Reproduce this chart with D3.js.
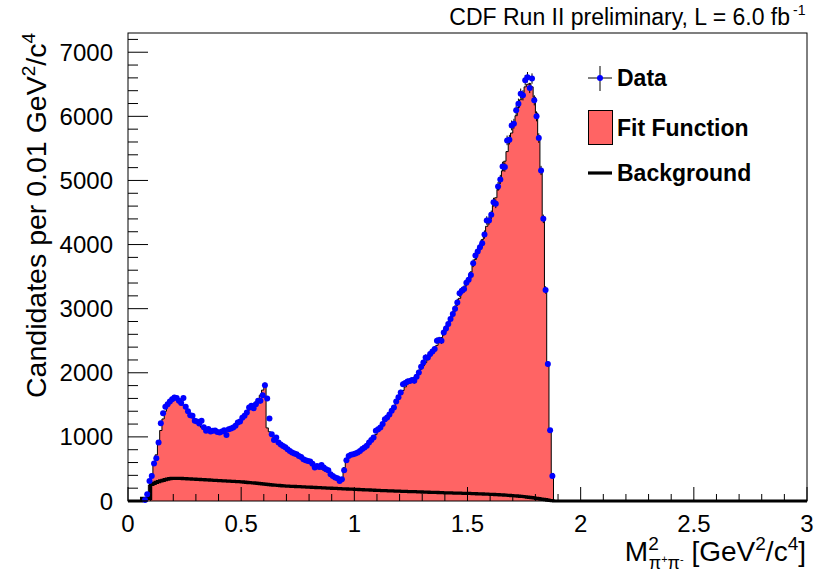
<!DOCTYPE html>
<html><head><meta charset="utf-8">
<script src="https://cdn.jsdelivr.net/npm/d3@7"></script>
<style>body{margin:0;background:#fff}svg{display:block}text{font-family:"Liberation Sans",Arial,Helvetica,sans-serif}</style>
</head><body><svg id="c" width="814" height="574"></svg>
<script>
// ---- data (bins of 0.01 GeV^2/c^4, first bin starts at 0.05) ----
const binWidth = 0.01;
const firstBinLow = 0.05;
const dataCounts = [null,null,15,105,312,390,583,667,911,1214,1370,1469,1510,1552,1589,1614,1605,1562,1527,1605,1469,1400,1339,1328,1250,1240,1208,1250,1150,1094,1125,1083,1094,1100,1078,1068,1085,1104,1031,1120,1130,1146,1172,1224,1240,1300,1328,1380,1458,1484,1448,1510,1562,1562,1651,1807,1599,1286,1042,953,989,911,880,859,840,807,781,755,740,729,703,687,651,635,625,615,580,521,547,531,562,521,495,479,417,390,365,354,312,339,479,635,703,720,729,740,755,781,810,833,860,911,950,989,1094,1120,1146,1200,1276,1302,1350,1406,1458,1552,1620,1693,1823,1840,1864,1870,1886,1875,1940,2005,2094,2160,2239,2239,2292,2330,2370,2500,2510,2500,2630,2690,2760,2840,2917,3000,3098,3242,3281,3307,3404,3450,3526,3708,3828,3890,3958,4021,4156,4375,4375,4464,4661,4636,4906,5016,5219,5208,5625,5636,5859,5885,6094,6198,6354,6328,6563,6610,6443,6589,6250,6000,5661,5156,4401,3292,2136,1104,391];
const fitValues = [0,30,40,60,250,420,560,720,900,1100,1280,1400,1480,1540,1575,1590,1585,1565,1535,1495,1450,1400,1350,1300,1255,1215,1180,1150,1125,1105,1090,1080,1075,1072,1072,1075,1080,1088,1098,1110,1125,1145,1170,1200,1235,1275,1320,1370,1420,1465,1505,1545,1590,1650,1730,1830,1140,1080,1030,990,955,925,895,865,835,808,782,758,735,712,690,670,650,630,610,590,570,550,532,515,498,480,462,444,425,405,385,365,335,360,520,640,690,715,730,745,762,782,805,832,862,895,935,990,1035,1085,1135,1185,1240,1295,1350,1410,1470,1535,1600,1665,1725,1780,1825,1862,1895,1930,1970,2010,2060,2110,2160,2210,2262,2315,2370,2428,2488,2550,2615,2683,2755,2830,2908,2990,3075,3162,3250,3325,3400,3470,3570,3670,3770,3870,3970,4075,4180,4285,4390,4500,4610,4730,4860,5000,5150,5300,5450,5600,5740,5880,6010,6140,6260,6370,6460,6500,6510,6460,6300,6050,5700,5150,4420,3300,2140,1090,430];
const bkgValues = [0,40,40,40,40,260,275,290,302,313,323,333,342,348,352,354,355,354,352,350,348,346,344,342,340,338,336,334,332,330,328,326,324,322,320,318,316,314,312,310,308,306,304,302,300,297,294,291,288,285,282,278,274,270,266,262,258,255,252,249,246,243,240,237,234,232,230,228,227,225,223,222,220,218,217,215,213,212,210,208,207,205,203,201,200,198,196,195,193,191,190,188,186,185,183,182,180,178,177,175,174,172,170,169,167,166,164,163,162,160,159,157,156,155,153,152,151,150,148,147,146,145,144,142,141,140,139,138,136,135,134,133,132,130,129,128,127,126,125,124,123,122,121,120,119,118,117,115,114,112,111,110,108,107,105,104,102,100,98,96,94,92,90,87,85,82,79,76,73,70,66,62,57,52,47,42,36,30,25,20,14,8,4];
const xTicksMajor = [0,0.5,1,1.5,2,2.5,3];
const xTickLabels = ["0","0.5","1","1.5","2","2.5","3"];
const yTicksMajor = [0,1000,2000,3000,4000,5000,6000,7000];
const yTickLabels = ["0","1000","2000","3000","4000","5000","6000","7000"];
const xDomain = [0,3], yDomain = [0,7300];
const legendItems = ["Data","Fit Function","Background"];

const svg = d3.select("#c");
const x = d3.scaleLinear().domain(xDomain).range([128,807]);
const y = d3.scaleLinear().domain(yDomain).range([501,33]);
const RED = "#ff6464";

function toSteps(vals){
  const pts = vals.map((v,i)=>({lo: firstBinLow + i*binWidth, v: v==null?0:v}));
  const out = [{lo:xDomain[0], v:0}].concat(pts);
  out.push({lo: firstBinLow + vals.length*binWidth, v:0});
  out.push({lo: xDomain[1], v:0});
  return out;
}
const fitSteps = toSteps(fitValues);
const bkgSteps = toSteps(bkgValues);

svg.append("path").datum(fitSteps)
  .attr("d", d3.area().curve(d3.curveStepAfter).x(d=>x(d.lo)).y0(y(0)).y1(d=>y(d.v)))
  .attr("fill", RED);
svg.append("path").datum(fitSteps)
  .attr("d", d3.line().curve(d3.curveStepAfter).x(d=>x(d.lo)).y(d=>y(d.v)))
  .attr("fill","none").attr("stroke","#000").attr("stroke-width",1);
svg.append("path").datum(bkgSteps)
  .attr("d", d3.line().curve(d3.curveStepAfter).x(d=>x(d.lo)).y(d=>y(d.v)))
  .attr("fill","none").attr("stroke","#000").attr("stroke-width",3.2);

const pts = dataCounts.map((v,i)=>({c: firstBinLow + (i+0.5)*binWidth, lo:firstBinLow+i*binWidth, v})).filter(d=>d.v!=null);
const g = svg.append("g");
g.selectAll("line.ev").data(pts).join("line")
  .attr("x1",d=>x(d.c)).attr("x2",d=>x(d.c))
  .attr("y1",d=>y(Math.max(0,d.v-Math.sqrt(d.v)))).attr("y2",d=>y(d.v+Math.sqrt(d.v)))
  .attr("stroke","#000").attr("stroke-width",1);
g.selectAll("line.eh").data(pts).join("line")
  .attr("x1",d=>x(d.lo)).attr("x2",d=>x(d.lo+binWidth))
  .attr("y1",d=>y(d.v)).attr("y2",d=>y(d.v))
  .attr("stroke","#000").attr("stroke-width",1);
g.selectAll("circle").data(pts).join("circle")
  .attr("cx",d=>x(d.c)).attr("cy",d=>y(d.v)).attr("r",3).attr("fill","#0000ff");

// frame
svg.append("rect").attr("x",128).attr("y",33).attr("width",679).attr("height",468)
  .attr("fill","none").attr("stroke","#000").attr("stroke-width",1);

// x ticks
const xMinor = d3.range(0, 3.0001, 0.1);
svg.append("g").selectAll("line").data(xMinor).join("line")
  .attr("x1",d=>x(d)).attr("x2",d=>x(d)).attr("y1",501)
  .attr("y2",d=> (Math.abs(d*2-Math.round(d*2))<1e-6) ? 501-14 : 501-7)
  .attr("stroke","#000");
svg.append("g").selectAll("text").data(xTicksMajor).join("text")
  .attr("x",d=>x(d)).attr("y",532).attr("text-anchor","middle")
  .attr("font-size",24).text((d,i)=>xTickLabels[i]);
// y ticks
const yMinor = d3.range(0, 7201, 200);
svg.append("g").selectAll("line").data(yMinor).join("line")
  .attr("y1",d=>y(d)).attr("y2",d=>y(d)).attr("x1",128)
  .attr("x2",d=> d%1000===0 ? 128+20 : 128+10)
  .attr("stroke","#000");
svg.append("g").selectAll("text").data(yTicksMajor).join("text")
  .attr("x",113).attr("y",d=>y(d)+8.5).attr("text-anchor","end")
  .attr("font-size",24).text((d,i)=>yTickLabels[i]);

// axis titles
const yt = svg.append("text").attr("transform","translate(46,33) rotate(-90)")
  .attr("text-anchor","end").attr("font-size",28.5);
yt.append("tspan").text("Candidates per 0.01 GeV");
yt.append("tspan").attr("dy",-11).attr("font-size",19).text("2");
yt.append("tspan").attr("dy",11).text("/c");
yt.append("tspan").attr("dy",-11).attr("font-size",19).text("4");

const xt = svg.append("text").attr("x",806).attr("y",561).attr("text-anchor","end").attr("font-size",28);
xt.append("tspan").text("M");
xt.append("tspan").attr("dy",-11).attr("font-size",19).text("2");
xt.append("tspan").attr("dx",-10).attr("dy",19).attr("font-size",18).text("π");
xt.append("tspan").attr("dy",-6).attr("font-size",11).text("+");
xt.append("tspan").attr("dy",6).attr("font-size",18).text("π");
xt.append("tspan").attr("dy",-6).attr("font-size",11).text("-");
xt.append("tspan").attr("dy",-2).text(" [GeV");
xt.append("tspan").attr("dy",-11).attr("font-size",19).text("2");
xt.append("tspan").attr("dy",11).text("/c");
xt.append("tspan").attr("dy",-11).attr("font-size",19).text("4");
xt.append("tspan").attr("dy",11).text("]");

// top label
const tl = svg.append("text").attr("x",790).attr("y",25).attr("text-anchor","end").attr("font-size",23);
tl.append("tspan").text("CDF Run II preliminary, L = 6.0 fb");
svg.append("text").attr("x",793).attr("y",15).attr("font-size",14).text("-1");

// legend
const lg = svg.append("g");
lg.append("line").attr("x1",600).attr("x2",600).attr("y1",66).attr("y2",91).attr("stroke","#000");
lg.append("line").attr("x1",588).attr("x2",612).attr("y1",78).attr("y2",78).attr("stroke","#000");
lg.append("circle").attr("cx",600).attr("cy",78).attr("r",3).attr("fill","#0000ff");
lg.append("rect").attr("x",588.5).attr("y",110.5).attr("width",24).attr("height",34).attr("fill",RED).attr("stroke","#000").attr("stroke-width",1);
lg.append("line").attr("x1",588).attr("x2",612).attr("y1",173).attr("y2",173).attr("stroke","#000").attr("stroke-width",3.2);
const lyText = [78,128,173];
lg.selectAll("text").data(legendItems).join("text")
  .attr("x",617).attr("y",(d,i)=>lyText[i]+8).attr("font-size",23).attr("font-weight","bold").text(d=>d);
</script></body></html>
